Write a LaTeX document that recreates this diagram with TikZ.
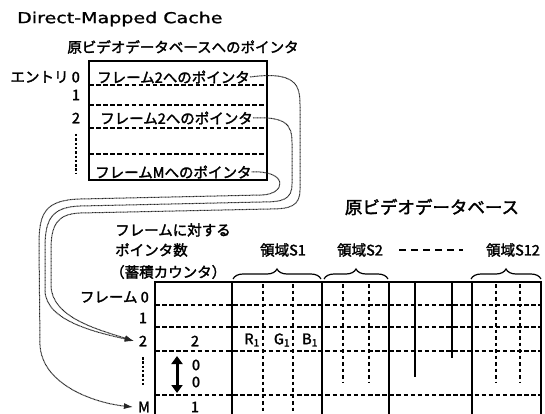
\documentclass[tikz,border=0pt]{standalone}
\usepackage{fontspec}
\setmainfont{Noto Sans CJK JP}[FakeBold=2]
\newfontfamily\jpf{Noto Sans CJK JP}[FakeBold=2]
\newfontfamily\latf{DejaVu Sans}[FakeStretch=1.27,FakeBold=1]
\usetikzlibrary{arrows.meta,decorations.pathreplacing}
\begin{document}
\begin{tikzpicture}[x=1pt,y=-1pt,
  jp/.style={font=\jpf\fontsize{14.5}{16}\selectfont, inner sep=0pt},
  big/.style={font=\jpf\fontsize{17.5}{19}\selectfont, inner sep=0pt},
  thickbox/.style={line width=2.4pt},
  rowdash/.style={dash pattern=on 4.5pt off 2.6pt, line width=1.1pt},
  coldash/.style={dash pattern=on 3.5pt off 3pt, line width=1.1pt},
  thinline/.style={line width=1.4pt},
  ptr/.style={line width=1pt, dash pattern=on 0.9pt off 0.5pt, black!85, -{Latex[length=9pt,width=6pt]}},
  ptrbrace/.style={decorate, decoration={brace, amplitude=10pt}, line width=1.2pt},
]
\useasboundingbox (0,0) rectangle (545,414);
\clip (0,0) rectangle (545,414);
\fill[white] (0,0) rectangle (545,414);

% ---- top: cache ----
\node[anchor=west, inner sep=0pt, font=\latf\fontsize{15}{17}\selectfont] (title) at (17,19) {Direct-Mapped Cache};
\node[jp] (hdr) at (183,47) {原ビデオデータベースへのポインタ};
\draw[thickbox] (89,61) rectangle (267,180);
\foreach \yy in {85,105,128,154} \draw[rowdash] (89,\yy) -- (267,\yy);

\node[jp, anchor=west] (e0) at (97,77) {フレーム2へのポインタ};
\node[jp, anchor=west] (e2) at (100,118) {フレーム2へのポインタ};
\node[jp, anchor=west] (eM) at (95,172) {フレームMへのポインタ};

\node[jp, anchor=east] (l0) at (80,77) {エントリ 0};
\node[jp] (l1) at (76,95) {1};
\node[jp] (l2) at (76,118) {2};
\draw[line width=1.5pt, dash pattern=on 2.5pt off 1.8pt] (76,134) -- (76,174);

% ---- bottom: database ----
\node[big] (db) at (432,207) {原ビデオデータベース};
\node[jp, anchor=west] (c1) at (115,230) {フレームに対する};
\node[jp, anchor=west] (c2) at (115,250) {ポインタ数};
\node[jp, anchor=west] (c3) at (110,272) {（蓄積カウンタ）};

\node[jp] (s1) at (283,250) {領域S1};
\node[jp] (s2) at (360,250) {領域S2};
\node[jp] (s12) at (513,250) {領域S12};
\draw[line width=1.6pt, dash pattern=on 7pt off 5pt] (399,250) -- (463,250);

\draw[ptrbrace] (233,279) -- (321,279);
\draw[ptrbrace] (324,279) -- (388,279);
\draw[ptrbrace] (471,279) -- (541,279);

% table
\foreach \yy in {305,327,351,395} \draw[rowdash] (155,\yy) -- (541,\yy);
\foreach \xx in {263,293} \draw[coldash] (\xx,284) -- (\xx,414);
\foreach \xx in {343,369,496,520} \draw[coldash] (\xx,284) -- (\xx,382);
\draw[thinline] (322,282) -- (322,414);
\draw[thinline] (389,282) -- (389,414);
\draw[thinline] (415,282) -- (415,377);
\draw[thinline] (452,282) -- (452,358);
\draw[thinline] (472,282) -- (472,414);
\draw[thinline] (541,282) -- (541,414);
\draw[thickbox] (155,414) -- (155,282) -- (542,282);
\draw[thickbox] (232,282) -- (232,414);

\node[jp, anchor=east] (f0) at (149,297) {フレーム 0};
\node[jp] (f1) at (143,318) {1};
\node[jp] (f2) at (143,341) {2};
\draw[line width=1.5pt, dash pattern=on 2.5pt off 1.8pt] (143,357) -- (143,386);
\node[jp] (fM) at (144,407) {M};

\node[jp] (n2) at (195,341) {2};
\node[jp] (n0a) at (196,365) {0};
\node[jp] (n0b) at (196,382) {0};
\node[jp] (n1) at (195,407) {1};
\draw[line width=3pt, {Triangle[length=8pt,width=11pt]}-{Triangle[length=8pt,width=11pt]}] (177,356) -- (177,393);

\node[jp] (r1) at (252,340) {R\textsubscript{1}};
\node[jp] (g1) at (282,340) {G\textsubscript{1}};
\node[jp] (b1) at (310,340) {B\textsubscript{1}};

% pointer curves
\draw[ptr] (eM.east) .. controls (288,170) and (287,194) .. (262,195)
  -- (80,199) .. controls (44,200) and (39,214) .. (39,245)
  -- (40,345) .. controls (42,385) and (95,403) .. ([xshift=-5pt]fM.west);
\draw[ptr] (e2.east) .. controls (294,116) and (292,130) .. (292,150)
  -- (292,184) .. controls (292,200) and (282,202) .. (262,202)
  -- (80,206) .. controls (51,207) and (45,220) .. (45,248)
  -- (45,290) .. controls (45,322) and (100,333) .. ([xshift=-5pt]f2.west);
\draw[ptr] (e0.east) .. controls (302,70) and (300,90) .. (300,110)
  -- (300,190) .. controls (300,206) and (290,209) .. (270,209)
  -- (80,213) .. controls (57,214) and (51,225) .. (51,250)
  -- (51,285) .. controls (51,318) and (100,330) .. ([xshift=-5pt]f2.west);
\end{tikzpicture}
\end{document}
